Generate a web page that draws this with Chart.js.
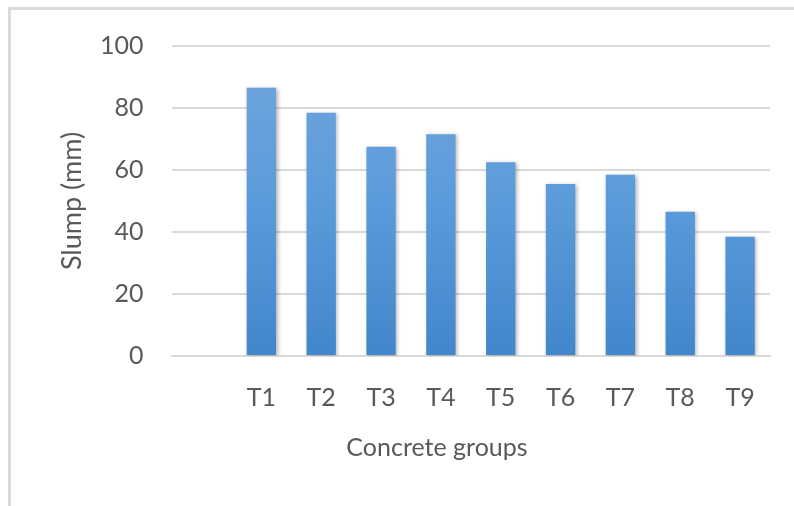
<!DOCTYPE html>
<html>
<head>
<meta charset="utf-8">
<script src="https://cdn.jsdelivr.net/npm/chart.js@4.4.1/dist/chart.umd.min.js"></script>
<style>
  body { margin: 0; background: #fff; overflow: hidden; }
  #frame { position: absolute; left: 8px; top: 7px; width: 800px; height: 510px;
           border-top: 3px solid #dadada; border-left: 3px solid #dadada; }
  #wrap { position: absolute; left: 0; top: 0; width: 794px; height: 506px; }
</style>
</head>
<body>
<div id="frame"></div>
<div id="wrap"><canvas id="slumpChart"></canvas></div>
<script>
// Chart data (first slot is left empty like in the original)
const groups = ['', 'T1', 'T2', 'T3', 'T4', 'T5', 'T6', 'T7', 'T8', 'T9'];
const slump = [null, 86.5, 78.5, 67.5, 71.5, 62.5, 55.5, 58.5, 46.5, 38.5];
const yTicks = [0, 20, 40, 60, 80, 100];

const textColor = '#595959';
const gridColor = '#d9d9d9';
const fontFamily = 'Lato, "Open Sans", sans-serif';

// Vertical blue gradient for the bars
function barGradient(context) {
  const area = context.chart.chartArea;
  if (!area) return '#5b9bd5';
  const g = context.chart.ctx.createLinearGradient(0, area.top, 0, area.bottom);
  g.addColorStop(0, '#72a6dc');
  g.addColorStop(0.5, '#5b9bdb');
  g.addColorStop(1, '#4286cb');
  return g;
}

// Soft shadow behind bars + x axis title drawn off-centre like the original
const extras = {
  id: 'extras',
  beforeDatasetsDraw(chart) {
    const c = chart.ctx;
    c.save();
    c.shadowColor = 'rgba(0, 0, 0, 0.3)';
    c.shadowBlur = 4;
    c.shadowOffsetX = 1.5;
    c.shadowOffsetY = 1;
  },
  afterDatasetsDraw(chart) {
    chart.ctx.restore();
  },
  afterDraw(chart) {
    const c = chart.ctx;
    c.save();
    c.fillStyle = textColor;
    c.font = '25px ' + fontFamily;
    c.textAlign = 'center';
    c.textBaseline = 'middle';
    c.fillText('Concrete groups', 437, 448);
    c.restore();
  }
};

const ctx = document.getElementById('slumpChart').getContext('2d');
const slumpChart = new Chart(ctx, {
  type: 'bar',
  data: {
    labels: groups,
    datasets: [{
      label: 'Slump (mm)',
      data: slump,
      backgroundColor: barGradient,
      borderWidth: 0,
      barPercentage: 0.49,
      categoryPercentage: 1.0,
    }],
  },
  options: {
    responsive: true,
    maintainAspectRatio: false,
    animation: false,
    layout: { padding: { left: 50, right: 24, top: 46, bottom: 93 } },
    plugins: {
      legend: { display: false },
      tooltip: { enabled: false },
    },
    scales: {
      x: {
        grid: { display: false, drawTicks: false },
        border: { display: true, color: gridColor, width: 2 },
        ticks: {
          color: textColor,
          font: { family: fontFamily, size: 25 },
          padding: 27,
          maxRotation: 0,
        },
        afterFit(scale) { scale.height = 57; },
      },
      y: {
        min: 0,
        max: 100,
        afterBuildTicks(scale) { scale.ticks = yTicks.map(v => ({ value: v })); },
        grid: { color: gridColor, lineWidth: 2, drawTicks: false },
        border: { display: false },
        ticks: {
          color: textColor,
          font: { family: fontFamily, size: 25 },
          padding: 28,
        },
        title: {
          display: true,
          text: 'Slump (mm)',
          color: textColor,
          font: { family: fontFamily, size: 27 },
          padding: { top: 6, bottom: 6 },
        },
        afterFit(scale) { scale.width = 121.6; },
      },
    },
  },
  plugins: [extras],
});
</script>
</body>
</html>
